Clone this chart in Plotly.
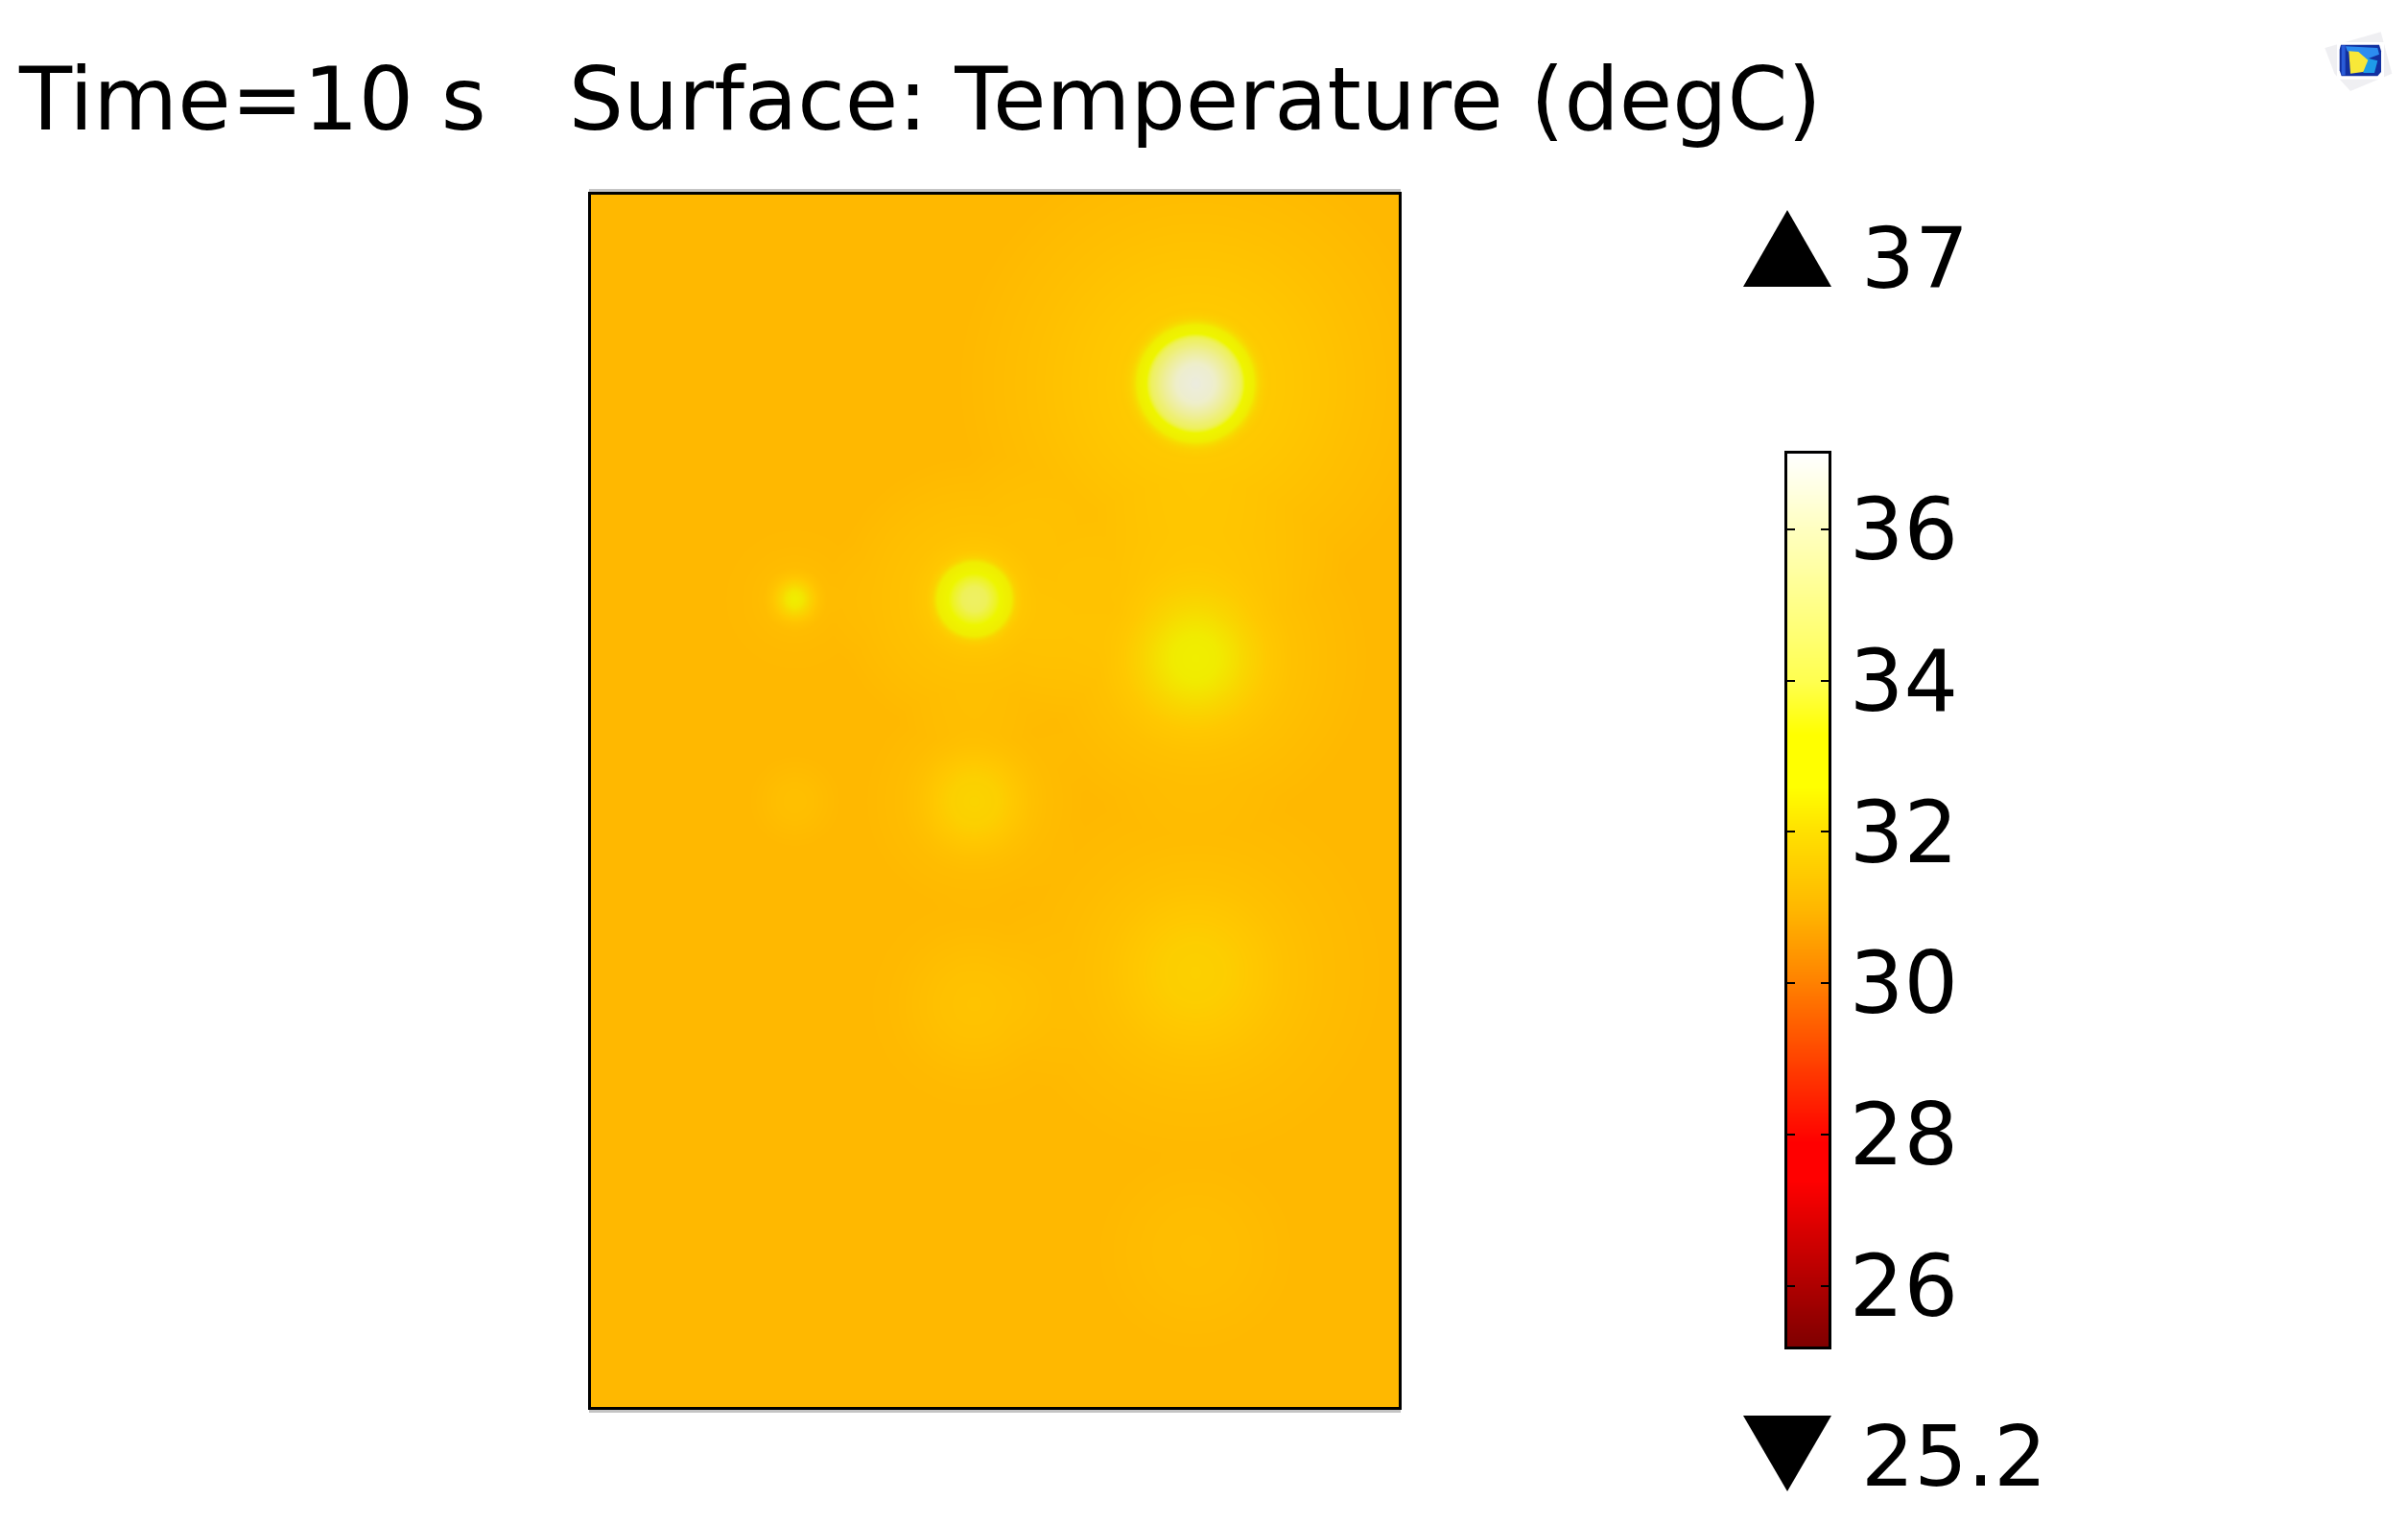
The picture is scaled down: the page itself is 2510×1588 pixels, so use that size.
import numpy as np
import plotly.graph_objects as go

W, H = 2510, 1588
PAGE_MARGIN = 8  # browser default body margin around the figure

# Title and legend texts
title_text = "Time=10\u00a0s\u00a0\u00a0\u00a0Surface: Temperature (degC)"
max_label = "37"
min_label = "25.2"
T_MIN, T_MAX = 25.2, 37.0
bar_ticks = [26, 28, 30, 32, 34, 36]

# Plate size (arbitrary plate units) and far-field temperature
plate_w, plate_h = 100, 150
base_temp = 30.95

# Hot spots: centre (plate units), radial profile (radius, excess degC)
spot_a_xy = (74.8, 126.7)
spot_a_r = [0, 2, 4, 5, 5.8, 6.2, 7, 7.6, 8.2, 9, 12, 16, 20, 30]
spot_a_t = [6.05, 5.4, 4.05, 3.35, 2.85, 2.3, 1.9, 1.3, 0.9, 0.7, 0.6, 0.45, 0.3, 0.0]
spot_b_xy = (47.4, 100.0)
spot_b_r = [0, 1.5, 2.7, 3.5, 4.5, 5.2, 6, 8, 12, 18]
spot_b_t = [3.1, 3.0, 2.6, 2.2, 1.7, 0.9, 0.6, 0.4, 0.25, 0.0]
spot_c_xy = (25.2, 100.0)
spot_c_r = [0, 1, 2, 3, 4, 6, 10]
spot_c_t = [1.7, 1.5, 0.95, 0.45, 0.18, 0.08, 0.0]
spot_d_xy = (74.8, 92.7)
spot_d_r = [0, 3, 5, 7, 9, 12, 16, 22]
spot_d_t = [1.8, 1.6, 1.3, 0.95, 0.65, 0.38, 0.2, 0.0]
spot_e_xy = (47.4, 75.0)
spot_e_r = [0, 3, 5, 7, 9, 14]
spot_e_t = [1.0, 0.88, 0.62, 0.35, 0.18, 0.0]
spot_f_xy = (25.2, 75.0)
spot_f_r = [0, 2, 4, 6]
spot_f_t = [0.3, 0.26, 0.12, 0.0]
spot_g_xy = (74.8, 53.8)
spot_g_r = [0, 4, 8, 11, 16, 24]
spot_g_t = [0.9, 0.82, 0.58, 0.38, 0.18, 0.0]
spot_h_xy = (74.8, 19.3)
spot_h_r = [0, 5, 9, 13]
spot_h_t = [0.25, 0.2, 0.1, 0.0]
spot_i_xy = (47.4, 49.9)
spot_i_r = [0, 4, 7, 10, 14]
spot_i_t = [0.45, 0.36, 0.22, 0.08, 0.0]

spots = [
    (spot_a_xy, spot_a_r, spot_a_t), (spot_b_xy, spot_b_r, spot_b_t),
    (spot_c_xy, spot_c_r, spot_c_t), (spot_d_xy, spot_d_r, spot_d_t),
    (spot_e_xy, spot_e_r, spot_e_t), (spot_f_xy, spot_f_r, spot_f_t),
    (spot_g_xy, spot_g_r, spot_g_t), (spot_h_xy, spot_h_r, spot_h_t),
    (spot_i_xy, spot_i_r, spot_i_t),
]

# Colour ramps: temperature -> colour
surface_levels = [30.8, 31.2, 31.6, 32.1, 32.6, 33.3, 34.0, 35.0, 36.0, 37.0]
surface_colors = ["#FFB400", "#FFBE00", "#FFC800", "#F8D800", "#F0EC00",
                  "#EEF500", "#EEF060", "#EEEE98", "#EEEEC8", "#ECECDF"]
bar_levels = [25.2, 27.4, 27.9, 30.0, 31.0, 32.0, 32.6, 33.3, 34.0, 36.0, 37.0]
bar_colors = ["#7F0000", "#FF0000", "#FF0000", "#FF8000", "#FFB800", "#FFE000",
              "#FFFF00", "#FFFF00", "#FFFF50", "#FFFFC0", "#FFFFFF"]


def scale(levels, colors):
    lo, hi = levels[0], levels[-1]
    return [[(v - lo) / (hi - lo), c] for v, c in zip(levels, colors)]


FW, FH = W - 2 * PAGE_MARGIN, H - 2 * PAGE_MARGIN


def px(x):
    return (x - PAGE_MARGIN) / FW


def py(y):
    return 1 - (y - PAGE_MARGIN) / FH


xs = np.linspace(0, plate_w, 423)
ys = np.linspace(0, plate_h, 633)
gx, gy = np.meshgrid(xs, ys)
field = np.full(gx.shape, base_temp)
for (cx, cy), rr, tt in spots:
    field += np.interp(np.hypot(gx - cx, gy - cy), rr, tt)

bar_y = np.linspace(T_MIN, T_MAX, 472)
bar_z = np.column_stack([bar_y, bar_y])

fig = go.Figure()
fig.add_trace(go.Heatmap(x=xs, y=ys, z=field, zsmooth="best", showscale=False,
                         colorscale=scale(surface_levels, surface_colors),
                         zmin=surface_levels[0], zmax=surface_levels[-1],
                         xaxis="x", yaxis="y", hoverinfo="skip"))
fig.add_trace(go.Heatmap(x=[0, 1], y=bar_y, z=bar_z, zsmooth="best", showscale=False,
                         colorscale=scale(bar_levels, bar_colors),
                         zmin=T_MIN, zmax=T_MAX,
                         xaxis="x2", yaxis="y2", hoverinfo="skip"))

shapes = []
# faint shadow lines outside the plate frame
for y0, y1 in [(197, 200), (1470, 1473)]:
    shapes.append(dict(type="rect", xref="paper", yref="paper", x0=px(614), x1=px(1460),
                       y0=py(y0), y1=py(y1), fillcolor="#C4C4C4", line_width=0))


def poly(points, fill, opacity=1.0):
    path = "M " + " L ".join(f"{px(a):.5f},{py(b):.5f}" for a, b in points) + " Z"
    return dict(type="path", xref="paper", yref="paper", path=path, fillcolor=fill,
                line_width=0, opacity=opacity, layer="above")


# min / max triangles
shapes.append(poly([(1817, 299), (1909, 299), (1863, 219)], "#000000"))
shapes.append(poly([(1817, 1476), (1909, 1476), (1863, 1555)], "#000000"))


def ix(v):
    return 2400 + v / 3


def iy(v):
    return 20 + v / 3


# application icon in the corner
shapes.append(poly([(ix(a), iy(b)) for a, b in
                    [(70, 90), (245, 40), (280, 170), (150, 225), (100, 170)]], "#E8E8EC", 0.7))
shapes.append(poly([(ix(a), iy(b)) for a, b in
                    [(108, 72), (255, 72), (255, 188), (108, 188)]], "#FFFFFF"))
shapes.append(poly([(ix(a), iy(b)) for a, b in
                    [(120, 80), (240, 80), (246, 100), (246, 165), (235, 178), (122, 178), (116, 160), (116, 95)]],
                   "#1230A0"))
shapes.append(poly([(ix(a), iy(b)) for a, b in
                    [(135, 85), (235, 90), (240, 110), (200, 125), (140, 100)]], "#2C8CF0"))
shapes.append(poly([(ix(a), iy(b)) for a, b in
                    [(195, 120), (235, 130), (225, 168), (190, 168)]], "#1E9CE8"))
shapes.append(poly([(ix(a), iy(b)) for a, b in
                    [(145, 100), (175, 102), (205, 128), (190, 165), (150, 170)]], "#F8E838"))
shapes.append(poly([(ix(a), iy(b)) for a, b in
                    [(122, 82), (134, 82), (134, 175), (122, 175)]], "#2A5CD8"))

annotations = [
    dict(text=title_text, x=px(17), y=py(104), xanchor="left", yanchor="middle", size=90.2),
    dict(text=max_label, x=px(1938), y=py(270), xanchor="left", yanchor="middle", size=88),
    dict(text=min_label, x=px(1938), y=py(1519), xanchor="left", yanchor="middle", size=87),
]
for a in annotations:
    size = a.pop("size")
    a.update(xref="paper", yref="paper", showarrow=False,
             font=dict(family="DejaVu Sans", size=size, color="#000000"))

fig.update_layout(
    width=FW, height=FH, autosize=False,
    margin=dict(l=0, r=0, t=0, b=0), paper_bgcolor="#FFFFFF", plot_bgcolor="#FFFFFF",
    shapes=shapes, annotations=annotations, showlegend=False,
    xaxis=dict(domain=[px(616), px(1458)], range=[0, plate_w], showticklabels=False, ticks="",
               showgrid=False, zeroline=False, showline=True, linecolor="#000000", linewidth=3,
               mirror=True, anchor="y"),
    yaxis=dict(domain=[py(1467), py(203)], range=[0, plate_h], showticklabels=False, ticks="",
               showgrid=False, zeroline=False, showline=True, linecolor="#000000", linewidth=3,
               mirror=True, anchor="x"),
    xaxis2=dict(domain=[px(1863), px(1906)], range=[0, 1], showticklabels=False, ticks="",
                showgrid=False, zeroline=False, showline=True, linecolor="#000000", linewidth=3,
                mirror=True, anchor="y2"),
    yaxis2=dict(domain=[py(1404), py(473)], range=[T_MIN, T_MAX], side="right", anchor="x2",
                tickmode="array", tickvals=bar_ticks, ticktext=[str(t) for t in bar_ticks],
                ticks="inside", ticklen=8, tickwidth=2, tickcolor="#000000",
                ticklabelstandoff=1,
                tickfont=dict(family="DejaVu Sans", size=89, color="#000000"),
                showgrid=False, zeroline=False, showline=True, linecolor="#000000", linewidth=3,
                mirror="ticks"),
)
fig.write_html("out.html")
